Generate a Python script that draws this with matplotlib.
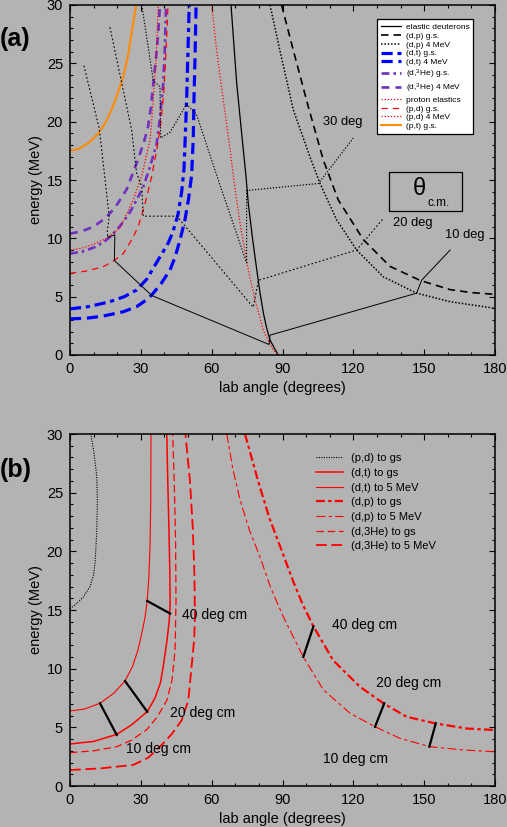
import matplotlib
matplotlib.use('Agg')
import matplotlib.pyplot as plt
from matplotlib.patches import Rectangle
from matplotlib.ticker import MultipleLocator

plt.rcParams['font.family'] = ['Liberation Sans', 'DejaVu Sans']
plt.rcParams['mathtext.fontset'] = 'custom'
plt.rcParams['mathtext.rm'] = 'Liberation Sans'
plt.rcParams['mathtext.it'] = 'Liberation Sans'
plt.rcParams['mathtext.bf'] = 'Liberation Sans:bold'

BG = '#b3b3b3'
RED = '#ff0000'
BLUE = '#0000ff'
PURPLE = '#7030c0'
ORANGE = '#ff8c00'

# ---------------- panel (a) data (lab angle deg, energy MeV) ----------------
a_elastic_x = [68.2, 70.6, 72.7, 74.5, 75.5, 77.3, 79.1, 80.5, 81.9, 83.3, 84.7, 86.5, 88.2]
a_elastic_y = [30, 23.3, 19, 15.4, 13, 10, 7.3, 5.3, 3.6, 2.3, 1.3, 0.6, 0]

a_dp_gs_x = [89.6, 94.6, 100.9, 107.3, 113.6, 124.2, 135.5, 148.2, 161, 170, 180]
a_dp_gs_y = [30, 26.1, 21.3, 16.7, 13.3, 9.9, 7.6, 6.4, 5.6, 5.35, 5.2]

a_dp_4_x = [84.7, 88.9, 94.6, 101.6, 105.9, 112.9, 121.4, 132.7, 146.8, 161, 180]
a_dp_4_y = [30, 26.1, 21, 17, 14.7, 11.6, 9.0, 6.7, 5.3, 4.57, 4.0]

a_dt_gs_x = [0, 8, 16.9, 23, 28.2, 32.5, 36, 39, 41.6, 43.5, 45.7, 47.3, 48.3, 49.4, 50.1, 50.5]
a_dt_gs_y = [3.95, 4.15, 4.57, 5.0, 5.57, 6.5, 7.7, 8.7, 9.6, 10.5, 12.0, 14, 16, 21.9, 27.1, 30]

a_dt_4_x = [0, 7, 14.1, 22.6, 28.2, 31.5, 34.6, 38.5, 42.4, 44.5, 46.6, 48.7, 50.3, 51.5, 52.2, 52.5, 53.0, 53.4]
a_dt_4_y = [3.1, 3.15, 3.34, 3.71, 4.14, 4.6, 5.14, 6.1, 7.3, 8.4, 9.86, 11.6, 13.5, 15.4, 18.5, 21.9, 26, 30]

a_d3he_gs_x = [0, 5, 10, 14, 16.9, 21, 25, 28, 31, 33.5, 35.3, 36.7, 38.2, 39.5, 40.2, 40.7]
a_d3he_gs_y = [8.7, 8.85, 9.2, 9.65, 10.1, 11.0, 12.1, 13.2, 14.4, 15.9, 17.1, 18.1, 20.5, 23.3, 26.5, 30]

a_d3he_4_x = [0, 5, 10, 14.8, 19, 24, 28.9, 31.5, 33.0, 34.3, 35.3, 36.3, 37.0, 37.6, 38.1]
a_d3he_4_y = [10.4, 10.6, 11.0, 11.7, 12.6, 14.2, 16.8, 18.4, 19.5, 21.3, 23.3, 25.2, 26.7, 28.3, 30]

a_pel_x = [60, 62.1, 64.9, 67.8, 69.2, 72, 75.5, 78.4, 81.9, 86.1, 88.2]
a_pel_y = [30, 26.1, 21.9, 17.6, 15.3, 11.3, 7.3, 4.7, 2.1, 0.4, 0]

a_pd_gs_x = [0, 7, 14.1, 19, 22.6, 26.1, 28.9, 31.8, 34.6, 37, 38.6, 39.7, 40.4, 41.0, 41.5]
a_pd_gs_y = [7.0, 7.2, 7.57, 8.14, 8.7, 9.86, 11, 13, 15.3, 17.9, 20.1, 22.5, 25, 27.5, 30]

a_pd_4_x = [0, 5, 10, 15.5, 21.2, 26.8, 30.4, 33.9, 34.6, 35.5, 36.3, 36.9, 37.4]
a_pd_4_y = [9.0, 9.15, 9.5, 10.0, 10.9, 13.3, 15.4, 18.4, 20.1, 22.5, 25, 27.5, 30]

a_pt_gs_x = [0, 4, 8, 12, 15, 18, 20.5, 22.6, 24.5, 26.1, 27.2, 28]
a_pt_gs_y = [17.5, 17.7, 18.2, 19.0, 19.9, 21.2, 22.6, 23.9, 25.6, 27.6, 29.0, 30]

# constant centre-of-mass angle lines
a_cm10_x = [16.0, 19.0, 18.8, 34.6, 84.3, 84.7, 146.8, 148.9, 161]
a_cm10_y = [10.1, 10.3, 8.1, 5.1, 0.9, 1.7, 5.3, 6.4, 9.0]
a_cm20_x = [16.9, 26.1, 28.2, 30.4, 31.0, 45.2, 77.6, 79.8, 121.4, 132.7]
a_cm20_y = [28.1, 19.3, 15.6, 14.4, 11.9, 11.9, 4.1, 6.4, 9.0, 11.7]
a_cm30_x = [30.4, 35.3, 38.1, 38.4, 42.4, 49.4, 53.6, 62.8, 74.8, 74.8, 105.2, 120]
a_cm30_y = [30, 23.5, 23.0, 18.6, 19.1, 21.5, 20.6, 15.0, 7.9, 14.1, 14.7, 18.6]
a_cm40_x = [5.9, 12.4, 16.6, 15.8, 16.0]
a_cm40_y = [24.8, 19.4, 11.9, 10.6, 10.1]

# ---------------- panel (b) data ----------------
b_pd_x = [0, 2.5, 5.6, 8.5, 10.0, 10.6, 11.3, 11.6, 11.3, 10.0, 8.8]
b_pd_y = [15.1, 15.5, 16.1, 17.0, 18.0, 19.0, 21.5, 24.4, 26.5, 28.6, 30]

b_dt_gs_x = [0, 10, 19.8, 26, 32.7, 36, 38.3, 39.5, 41.0, 42.0, 42.4, 42.3, 41.9, 41.4, 41.0]
b_dt_gs_y = [3.58, 3.8, 4.4, 5.2, 6.33, 7.5, 8.8, 10.2, 12.3, 14.0, 15.5, 18, 22, 26, 30]

b_dt_5_x = [0, 6, 12.7, 18.5, 23.3, 26.5, 28.8, 30.6, 31.8, 32.7, 33.4, 33.9, 34.2, 34.3]
b_dt_5_y = [6.4, 6.55, 7.05, 7.9, 8.95, 10.2, 11.6, 13.2, 14.4, 15.8, 17.8, 20.5, 24.4, 30]

b_dp_gs_x = [74.1, 79.8, 84.5, 89.6, 94.6, 98.5, 103.1, 111.5, 122.8, 132.7, 142.6, 154.6, 168, 180]
b_dp_gs_y = [30, 25.9, 22.8, 20.1, 17.4, 15.5, 13.6, 10.7, 8.46, 7.05, 5.9, 5.34, 4.9, 4.77]

b_dp_5_x = [66.4, 69, 72, 76, 80.5, 85, 90.4, 98.8, 107.3, 118.6, 129.2, 139.8, 152.5, 166.6, 180]
b_dp_5_y = [30, 27, 24.4, 21.8, 19.5, 16.9, 14.4, 11.0, 8.2, 6.2, 5.05, 4.06, 3.35, 3.07, 2.92]

b_d3he_gs_x = [0, 10, 19.8, 26, 32.5, 37, 41, 43.2, 44.5, 44.9, 44.7, 44.2, 43.5]
b_d3he_gs_y = [2.84, 3.0, 3.35, 3.9, 4.8, 5.9, 7.3, 9.0, 11.6, 15.9, 21, 25.5, 30]

b_d3he_5_x = [0, 13, 26.8, 33, 38.1, 43, 47.3, 50.1, 51.5, 52.6, 52.9, 52.7, 52.0, 50.8, 48.9]
b_d3he_5_y = [1.36, 1.5, 1.8, 2.4, 3.35, 4.4, 5.6, 7.3, 10.2, 12.5, 14.4, 18, 22, 26, 30]

# thick black tie lines (same c.m. angle on gs and excited-state curves)
b_tie_x = [[12.7, 19.8], [23.3, 32.7], [32.7, 42.4], [103.1, 98.8], [133.1, 129.2], [154.9, 152.2]]
b_tie_y = [[7.05, 4.35], [8.95, 6.33], [15.77, 14.7], [13.6, 11.0], [7.05, 5.05], [5.34, 3.35]]

b_lbl_text = ['40 deg cm', '20 deg cm', '10 deg cm', '40 deg cm', '20 deg cm', '10 deg cm']
b_lbl_x = [47.3, 42.4, 23.7, 110.8, 129.6, 107.3]
b_lbl_y = [14.6, 6.26, 3.15, 13.7, 8.75, 2.3]

a_lbl_text = ['30 deg', '20 deg', '10 deg']
a_lbl_x = [107.3, 136.8, 158.8]
a_lbl_y = [20.0, 11.3, 10.3]

# ---------------- figure ----------------
fig = plt.figure(figsize=(5.07, 8.27), dpi=100, facecolor=BG)
axa = fig.add_axes([70/507, 1-355/827, 425/507, 350/827])
axb = fig.add_axes([70/507, 1-786/827, 425/507, 352/827])


def style_axes(ax):
    ax.set_facecolor(BG)
    ax.set_xlim(0, 180)
    ax.set_ylim(0, 30)
    ax.xaxis.set_major_locator(MultipleLocator(30))
    ax.xaxis.set_minor_locator(MultipleLocator(10))
    ax.yaxis.set_major_locator(MultipleLocator(5))
    ax.yaxis.set_minor_locator(MultipleLocator(1))
    ax.tick_params(which='both', direction='in', top=True, right=True,
                   labelsize=10.5, pad=5, width=0.8)
    ax.tick_params(which='major', length=4.5)
    ax.tick_params(which='minor', length=2.3)
    for s in ax.spines.values():
        s.set_linewidth(1.1)
    ax.set_xlabel('lab angle (degrees)', fontsize=10.5, labelpad=3.5)
    ax.set_ylabel('energy (MeV)', fontsize=10.5, labelpad=3)


style_axes(axa)
style_axes(axb)

# ---- panel (a) ----
h = []
h += axa.plot(a_elastic_x, a_elastic_y, color='black', lw=0.9, label='elastic deuterons')
h += axa.plot(a_dp_gs_x, a_dp_gs_y, color='black', lw=1.2, ls=(0, (4.5, 3)), label='(d,p) g.s.')
h += axa.plot(a_dp_4_x, a_dp_4_y, color='black', lw=1.1, ls=(0, (1, 1.2)), label='(d,p) 4 MeV')
h += axa.plot(a_dt_gs_x, a_dt_gs_y, color=BLUE, lw=2.3, ls=(0, (3.5, 1.5, 1.3, 1.5)), label='(d,t) g.s.')
h += axa.plot(a_dt_4_x, a_dt_4_y, color=BLUE, lw=2.3, ls=(0, (3.5, 1.8)), label='(d,t) 4 MeV')
h += axa.plot(a_d3he_gs_x, a_d3he_gs_y, color=PURPLE, lw=1.9, ls=(0, (3, 1.5, 1, 1.5)), label='(d,$^3$He) g.s.')
h += axa.plot(a_d3he_4_x, a_d3he_4_y, color=PURPLE, lw=1.9, ls=(0, (3, 2.3)), label='(d,$^3$He) 4 MeV')
h += axa.plot(a_pel_x, a_pel_y, color=RED, lw=0.9, ls=(0, (1, 1.5)), label='proton elastics')
h += axa.plot(a_pd_gs_x, a_pd_gs_y, color=RED, lw=0.9, ls=(0, (5, 4)), label='(p,d) g.s.')
h += axa.plot(a_pd_4_x, a_pd_4_y, color=RED, lw=0.9, ls=(0, (1, 1.5)), label='(p,d) 4 MeV')
h += axa.plot(a_pt_gs_x, a_pt_gs_y, color=ORANGE, lw=1.5, label='(p,t) g.s.')

axa.plot(a_cm10_x, a_cm10_y, color='black', lw=0.7)
axa.plot(a_cm20_x, a_cm20_y, color='black', lw=0.8, ls=(0, (1.5, 2.0)))
axa.plot(a_cm30_x, a_cm30_y, color='black', lw=0.8, ls=(0, (1.2, 1.5)))
axa.plot(a_cm40_x, a_cm40_y, color='black', lw=0.8, ls=(0, (1.5, 2.0)))

for t, x, y in zip(a_lbl_text, a_lbl_x, a_lbl_y):
    axa.text(x, y, t, fontsize=9.3, ha='left', va='center')

axa.add_patch(Rectangle((389.3/425 - 70/425, (355-210.7)/350), 73/425, 39/350,
                        transform=axa.transAxes, fill=False, ec='black', lw=0.9))
axa.text(148.1, 14.2, '\u03b8', fontsize=17, ha='center', va='center')
axa.text(151.2, 13.0, 'c.m.', fontsize=8.5, ha='left', va='center')

lega = axa.legend(handles=h, loc='upper left', bbox_to_anchor=(0.722, 0.959),
                  borderaxespad=0, fontsize=6, handlelength=2.4, handletextpad=0.6,
                  labelspacing=0.12, borderpad=0.45, fancybox=False, framealpha=1)
lega.get_frame().set_facecolor('white')
lega.get_frame().set_edgecolor('black')
lega.get_frame().set_linewidth(0.9)

fig.text(0.0, 1-39/827, '(a)', fontsize=18, fontweight='bold', ha='left', va='center')

# ---- panel (b) ----
hb = []
hb += axb.plot(b_pd_x, b_pd_y, color='black', lw=0.8, ls=(0, (1, 1.2)), label='(p,d) to gs')
hb += axb.plot(b_dt_gs_x, b_dt_gs_y, color=RED, lw=1.1, label='(d,t) to gs')
hb += axb.plot(b_dt_5_x, b_dt_5_y, color=RED, lw=0.8, label='(d,t) to 5 MeV')
hb += axb.plot(b_dp_gs_x, b_dp_gs_y, color=RED, lw=1.6, ls=(0, (4, 1.5, 1.5, 1.5)), label='(d,p) to gs')
hb += axb.plot(b_dp_5_x, b_dp_5_y, color=RED, lw=0.8, ls=(0, (8, 3, 3, 3)), label='(d,p) to 5 MeV')
hb += axb.plot(b_d3he_gs_x, b_d3he_gs_y, color=RED, lw=0.9, ls=(0, (6, 3)), label='(d,3He) to gs')
hb += axb.plot(b_d3he_5_x, b_d3he_5_y, color=RED, lw=1.3, ls=(0, (6, 2.5)), label='(d,3He) to 5 MeV')

for xs, ys in zip(b_tie_x, b_tie_y):
    axb.plot(xs, ys, color='black', lw=1.6)

for t, x, y in zip(b_lbl_text, b_lbl_x, b_lbl_y):
    axb.text(x, y, t, fontsize=10, ha='left', va='center')

legb = axb.legend(handles=hb, loc='upper left', bbox_to_anchor=(0.579, 0.945),
                  borderaxespad=0, fontsize=8, handlelength=2.45, handletextpad=0.65,
                  labelspacing=0.42, borderpad=0, frameon=False)

fig.text(0.0, 1-469.5/827, '(b)', fontsize=18, fontweight='bold', ha='left', va='center')

fig.savefig('out.png', dpi=100, facecolor=BG)
